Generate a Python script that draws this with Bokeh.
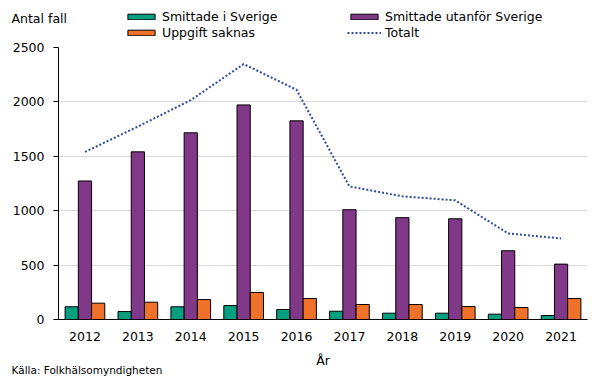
from bokeh.plotting import figure
from bokeh.layouts import column
from bokeh.models import (ColumnDataSource, FactorRange, Range1d, Legend, LegendItem, Label)
from bokeh.transform import dodge
from bokeh.embed import file_html
from bokeh.resources import INLINE

years = ["2012", "2013", "2014", "2015", "2016", "2017", "2018", "2019", "2020", "2021"]
smittade_sverige = [117, 73, 117, 128, 92, 76, 58, 58, 49, 37]
smittade_utanfor = [1273, 1541, 1716, 1972, 1826, 1009, 936, 926, 632, 509]
uppgift_saknas = [150, 159, 183, 248, 193, 138, 138, 119, 110, 193]
totalt = [1540, 1773, 2016, 2348, 2111, 1223, 1132, 1095, 791, 745]

y_ticks = [0, 500, 1000, 1500, 2000, 2500]

FONT = "DejaVu Sans"
GREEN = "#039F7F"
PURPLE = "#823889"
ORANGE = "#EF712A"
BLUE = "#2F4B9B"
W = 597

# ---------- header (legend + y title) ----------
header = figure(width=W, height=40, x_range=Range1d(0, W), y_range=Range1d(0, 40),
                output_backend="svg", toolbar_location=None,
                x_axis_location=None, y_axis_location=None, min_border=0)
header.frame_align = False
header.outline_line_color = None
header.grid.visible = False
# legend-only glyphs, kept outside the visible ranges
h1 = header.vbar(x=[-50], bottom=[-50], top=[-40], width=1, fill_color=GREEN, line_color="black")
h2 = header.vbar(x=[-50], bottom=[-50], top=[-40], width=1, fill_color=PURPLE, line_color="black")
h3 = header.vbar(x=[-50], bottom=[-50], top=[-40], width=1, fill_color=ORANGE, line_color="black")
h4 = header.line(x=[-60, -50], y=[-50, -50], line_color=BLUE, line_width=2, line_dash="2 2")


def make_legend(items, x, y):
    return Legend(items=items, location=(x, y), orientation="vertical",
                  padding=0, margin=0, spacing=1, glyph_width=34, glyph_height=7,
                  label_height=15, label_standoff=4, border_line_color=None,
                  background_fill_alpha=0, label_text_font=FONT,
                  label_text_font_size="12.5px", label_text_baseline="middle",
                  label_text_color="black")


header.add_layout(make_legend([LegendItem(label="Smittade i Sverige", renderers=[h1]),
                               LegendItem(label="Uppgift saknas", renderers=[h3])], 124, 0))
header.add_layout(make_legend([LegendItem(label="Smittade utanför Sverige", renderers=[h2]),
                               LegendItem(label="Totalt", renderers=[h4])], 347, 0))
header.add_layout(Label(x=11, y=22.5, x_units="screen", y_units="screen", text="Antal fall",
                        text_font=FONT, text_font_size="12.5px", text_baseline="middle",
                        text_color="black"))

# ---------- main chart ----------
src = ColumnDataSource(dict(year=years, sv=smittade_sverige, ut=smittade_utanfor,
                            us=uppgift_saknas, tot=totalt))

p = figure(width=W, height=310, x_range=FactorRange(*years), y_range=Range1d(0, 2500),
           output_backend="svg", toolbar_location=None,
           min_border_left=58, min_border_right=10, min_border_top=7, min_border_bottom=31)
p.frame_align = False
p.outline_line_color = None

bw = 0.25
p.vbar(x=dodge("year", -0.25, range=p.x_range), top="sv", width=bw, source=src,
       fill_color=GREEN, line_color="black", line_width=1)
p.vbar(x=dodge("year", 0.0, range=p.x_range), top="ut", width=bw, source=src,
       fill_color=PURPLE, line_color="black", line_width=1)
p.vbar(x=dodge("year", 0.25, range=p.x_range), top="us", width=bw, source=src,
       fill_color=ORANGE, line_color="black", line_width=1)
p.line(x="year", y="tot", source=src, line_color=BLUE, line_width=2, line_dash="2 2")

p.yaxis.ticker = y_ticks
p.yaxis.minor_tick_line_color = None
p.yaxis.major_tick_out = 5
p.yaxis.major_tick_in = 0
p.yaxis.major_label_standoff = 9
p.yaxis.axis_line_color = "black"
p.yaxis.major_label_text_font = FONT
p.yaxis.major_label_text_font_size = "12.5px"
p.yaxis.major_label_text_color = "black"

p.xaxis.major_tick_line_color = None
p.xaxis.major_tick_out = 0
p.xaxis.major_tick_in = 0
p.xaxis.minor_tick_line_color = None
p.xaxis.major_label_standoff = 12
p.xaxis.axis_line_color = "black"
p.xaxis.major_label_text_font = FONT
p.xaxis.major_label_text_font_size = "12.5px"
p.xaxis.major_label_text_color = "black"

p.xgrid.grid_line_color = None
p.ygrid.grid_line_color = "#D9D9D9"
p.ygrid.grid_line_width = 1
p.x_range.range_padding = 0

# ---------- footer (x title + source) ----------
footer = figure(width=W, height=28, x_range=Range1d(0, W), y_range=Range1d(0, 28),
                output_backend="svg", toolbar_location=None,
                x_axis_location=None, y_axis_location=None, min_border=0)
footer.frame_align = False
footer.outline_line_color = None
footer.grid.visible = False
footer.add_layout(Label(x=322.5, y=18, x_units="screen", y_units="screen", text="År",
                        text_font=FONT, text_font_size="12.5px", text_baseline="middle",
                        text_align="center", text_color="black"))
footer.add_layout(Label(x=11, y=9, x_units="screen", y_units="screen",
                        text="Källa: Folkhälsomyndigheten",
                        text_font=FONT, text_font_size="10.5px", text_baseline="middle",
                        text_color="black"))

layout = column(header, p, footer, spacing=0)
open("out.html", "w").write(file_html(layout, INLINE))
